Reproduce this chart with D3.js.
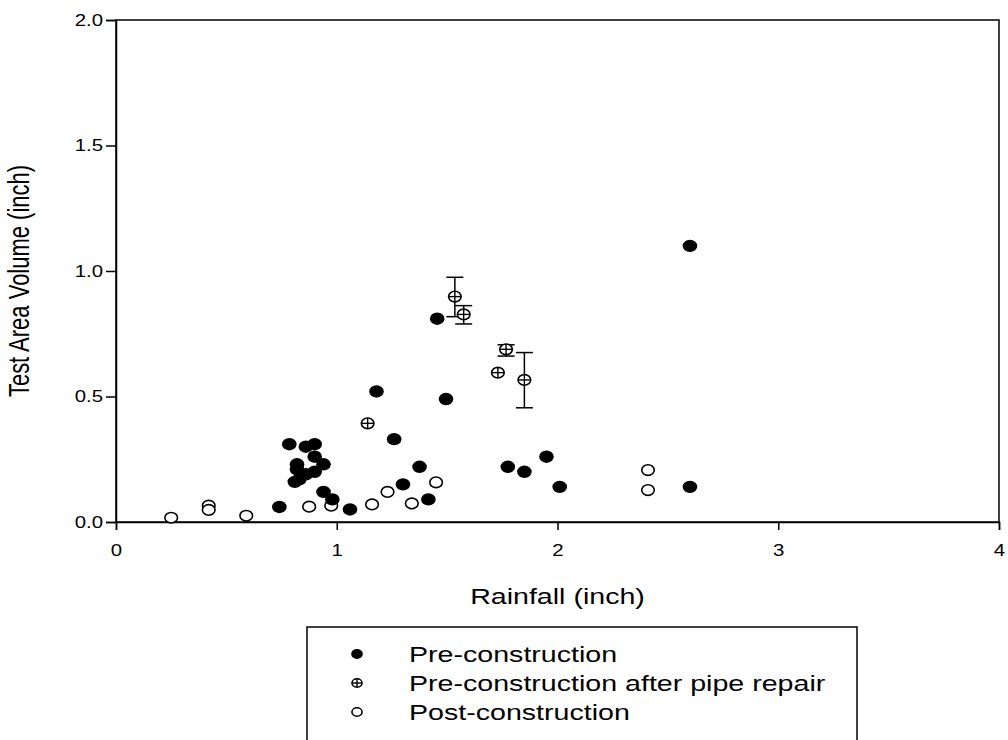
<!DOCTYPE html>
<html>
<head>
<meta charset="utf-8">
<script src="https://cdn.jsdelivr.net/npm/d3@7"></script>
<style>
  body { margin: 0; background: #fff; }
  text { font-family: "Liberation Sans", Arial, sans-serif; fill: #000; }
</style>
</head>
<body>
<div id="chart"></div>
<script>
var width = 1008;
var height = 740;
var sx = 1.3; // the original text looks stretched sideways
var tsx = 1.2;

// Pre-construction
var preX = [0.74, 0.785, 0.86, 0.90, 0.90, 0.82, 0.94, 0.82, 0.90, 0.86, 0.83, 0.81, 0.94, 0.98, 1.06,
            1.18, 1.26, 1.30, 1.375, 1.415, 1.455, 1.495, 1.775, 1.85, 1.95, 2.01, 2.60, 2.60];
var preY = [0.06, 0.31, 0.30, 0.31, 0.26, 0.23, 0.23, 0.21, 0.20, 0.19, 0.17, 0.16, 0.12, 0.09, 0.05,
            0.52, 0.33, 0.15, 0.22, 0.09, 0.81, 0.49, 0.22, 0.20, 0.26, 0.14, 1.10, 0.14];

// Pre-construction after pipe repair (null = no error bar)
var repX = [1.14, 1.535, 1.575, 1.73, 1.767, 1.85];
var repY = [0.393, 0.898, 0.827, 0.595, 0.688, 0.566];
var repLo = [null, 0.818, 0.789, null, 0.661, 0.455];
var repHi = [null, 0.975, 0.862, null, 0.706, 0.675];

// Post-construction
var postX = [0.25, 0.42, 0.42, 0.59, 0.875, 0.975, 1.16, 1.23, 1.34, 1.45, 2.41, 2.41];
var postY = [0.017, 0.065, 0.048, 0.025, 0.061, 0.065, 0.07, 0.12, 0.074, 0.158, 0.207, 0.127];

var xTicks = [0, 1, 2, 3, 4];
var yTicks = [0, 0.5, 1.0, 1.5, 2.0];
var legendNames = ["Pre-construction", "Pre-construction after pipe repair", "Post-construction"];

var svg = d3.select("#chart").append("svg")
    .attr("width", width)
    .attr("height", height);

var x = d3.scaleLinear().domain([0, 4]).range([116, 999]);
var y = d3.scaleLinear().domain([0, 2]).range([522, 20]);

// frame
svg.append("rect")
    .attr("x", x(0)).attr("y", y(2))
    .attr("width", x(4) - x(0)).attr("height", y(0) - y(2))
    .attr("fill", "none").attr("stroke", "#000").attr("stroke-width", 1.5);

var xAxis = svg.append("g")
    .attr("transform", `translate(0, ${y(0)})`)
    .call(d3.axisBottom(x).tickValues(xTicks).tickFormat(d3.format("d")).tickSize(8));
var yAxis = svg.append("g")
    .attr("transform", `translate(${x(0)}, 0)`)
    .call(d3.axisLeft(y).tickValues(yTicks).tickFormat(d3.format(".1f")).tickSize(10));

[xAxis, yAxis].forEach(function(a) {
  a.attr("font-size", 17);
  a.select(".domain").attr("stroke-width", 1.5);
  a.selectAll(".tick line").attr("stroke-width", 1.5);
  a.selectAll(".tick text")
      .attr("font-size", 17)
      .attr("transform", `scale(${tsx},1)`);
});
xAxis.selectAll(".tick text").attr("y", 22);
yAxis.selectAll(".tick text").attr("x", -13 / tsx);

svg.append("text")
    .attr("transform", `translate(${(x(0) + x(4)) / 2}, 604) scale(${sx},1)`)
    .attr("text-anchor", "middle")
    .style("font-size", "22px")
    .text("Rainfall (inch)");

svg.append("text")
    .attr("transform", `translate(29, 281) scale(${sx},1) rotate(-90)`)
    .attr("text-anchor", "middle")
    .style("font-size", "22px")
    .text("Test Area Volume (inch)");

// error bars
var errIdx = d3.range(repX.length).filter(i => repLo[i] !== null);
var eb = svg.append("g").attr("stroke", "#000").attr("stroke-width", 1.5);
errIdx.forEach(function(i) {
  var cx = x(repX[i]);
  eb.append("line").attr("x1", cx).attr("x2", cx).attr("y1", y(repLo[i])).attr("y2", y(repHi[i]));
  eb.append("line").attr("x1", cx - 8.5).attr("x2", cx + 8.5).attr("y1", y(repLo[i])).attr("y2", y(repLo[i]));
  eb.append("line").attr("x1", cx - 8.5).attr("x2", cx + 8.5).attr("y1", y(repHi[i])).attr("y2", y(repHi[i]));
});

function filled(g, cx, cy, s) {
  g.append("ellipse").attr("cx", cx).attr("cy", cy)
    .attr("rx", 7.3 * s).attr("ry", 6.2 * s).attr("fill", "#000");
}
function open(g, cx, cy, s) {
  g.append("ellipse").attr("cx", cx).attr("cy", cy)
    .attr("rx", 6.3 * s).attr("ry", 5.3 * s)
    .attr("fill", "#fff").attr("stroke", "#000").attr("stroke-width", 1.6);
}
function crossed(g, cx, cy, s) {
  open(g, cx, cy, s);
  g.append("line").attr("x1", cx - 6.3 * s).attr("x2", cx + 6.3 * s).attr("y1", cy).attr("y2", cy)
    .attr("stroke", "#000").attr("stroke-width", 1.4);
  g.append("line").attr("x1", cx).attr("x2", cx).attr("y1", cy - 5.3 * s).attr("y2", cy + 5.3 * s)
    .attr("stroke", "#000").attr("stroke-width", 1.4);
}

var marks = svg.append("g");
postX.forEach((v, i) => open(marks, x(v), y(postY[i]), 1));
preX.forEach((v, i) => filled(marks, x(v), y(preY[i]), 1));
repX.forEach((v, i) => crossed(marks, x(v), y(repY[i]), 1));

// legend
var leg = svg.append("g");
leg.append("rect")
    .attr("x", 307).attr("y", 627)
    .attr("width", 550).attr("height", 130)
    .attr("fill", "none").attr("stroke", "#000").attr("stroke-width", 1.5);
var rowY = [654, 683, 712];
var drawers = [filled, crossed, open];
legendNames.forEach(function(name, i) {
  drawers[i](leg, 357, rowY[i], 0.8);
  leg.append("text")
      .attr("transform", `translate(409, ${rowY[i]}) scale(${sx},1)`)
      .attr("dy", "0.35em")
      .style("font-size", "22px")
      .text(name);
});
</script>
</body>
</html>
